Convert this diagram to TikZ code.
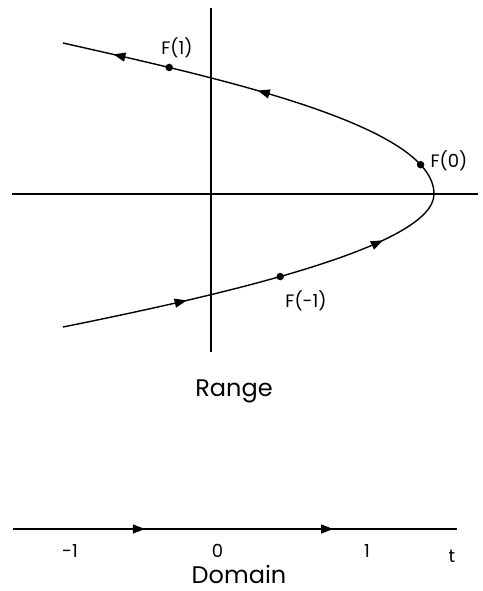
\documentclass[tikz,border=0pt]{standalone}
\usepackage{fontspec}
\setmainfont{Poppins}
\usetikzlibrary{arrows.meta,decorations.markings}
\tikzset{tri/.tip={Triangle[length=12pt,width=9pt]}}
\begin{document}
\begin{tikzpicture}[x=1pt,y=-1pt,
  axis/.style={line width=1.1pt,black},
  curve/.style={line width=1.4pt,black},
  dot/.style={circle,fill=black,inner sep=0pt,minimum size=7.5pt},
  lbl/.style={font=\fontsize{18}{20}\selectfont,anchor=base,inner sep=0pt},
  ttl/.style={font=\fontsize{24}{26}\selectfont,anchor=base,inner sep=0pt}]
\useasboundingbox (0,0) rectangle (482,591);
% axes of the range
\coordinate (vtop) at (211,8);
\coordinate (vbot) at (211,352);
\coordinate (hl) at (12,194);
\coordinate (hr) at (478,194);
\draw[axis] (vtop) -- (vbot);
\draw[axis] (hl) -- (hr);
% image curve
\coordinate (cb) at (63,327);
\coordinate (cv) at (434,194);
\coordinate (ct) at (63,43);
\draw[curve, postaction={decorate}, decoration={markings,
    mark=at position 126.5pt with {\arrow{tri}},
    mark=at position 332pt with {\arrow{tri}},
    mark=at position -200.5pt with {\arrow{tri}},
    mark=at position -51.7pt with {\arrow{tri}}}]
  (cb) .. controls (213,296.7) and (434,247.7) .. (cv) coordinate[pos=0.446] (pFm1)
       .. controls (434,124.4) and (213,77) .. (ct) coordinate[pos=0.147] (pF0) coordinate[pos=0.78] (pF1);
% points
\node[dot] (F1) at (pF1) {};
\node[dot] (F0) at (pF0) {};
\node[dot] (Fm1) at (pFm1) {};
\node[lbl] (lF1) at (177,55) {F(1)};
\node[lbl] (lF0) at (449,167) {F(0)};
\node[lbl] (lFm1) at (306,307) {F(-1)};
\node[ttl] (range) at (234,396) {Range};
% domain
\coordinate (dl) at (13,529);
\coordinate (dr) at (457,529);
\draw[axis, postaction={decorate}, decoration={markings,
    mark=at position 0.297 with {\arrow{tri}},
    mark=at position 0.721 with {\arrow{tri}}}] (dl) -- (dr);
\node[lbl] (tm1) at (70,557) {-1};
\node[lbl] (t0) at (217.5,557) {0};
\node[lbl] (t1) at (367,557) {1};
\node[lbl] (tt) at (452,562) {t};
\node[ttl] (domain) at (239,583) {Domain};
\end{tikzpicture}
\end{document}
